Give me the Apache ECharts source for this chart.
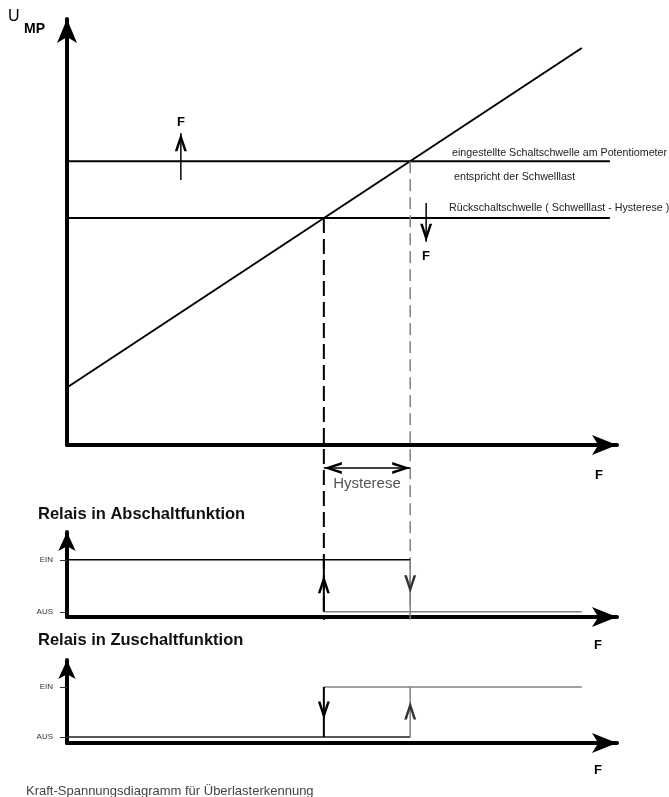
<!DOCTYPE html>
<html>
<head>
<meta charset="utf-8">
<script src="https://cdn.jsdelivr.net/npm/echarts@6/dist/echarts.min.js"></script>
<style>
  html, body { margin: 0; padding: 0; background: #fff; }
  #chart { width: 669px; height: 797px; }
</style>
</head>
<body>
<div id="chart"></div>
<script>
// Kennlinie U_MP(F) (F und U in willkuerlichen Einheiten 0..10)
const kennlinieF = [0, 9.36];
const kennlinieU = [1.35, 9.32];
const schwelleU = [6.66, 5.33];       // Schaltschwelle, Rueckschaltschwelle
const schaltpunktF = [4.67, 6.24];    // Rueckschaltpunkt, Schaltpunkt
const schwelleEndeF = 9.87;
const hilfslinieEndeU = -4.1;         // gestrichelte Linien laufen bis in das Relais-Diagramm
const hystereseU = -0.54;
const kraftPfeilF = [2.07, 6.53];
const kraftPfeilU = [[6.22, 7.32], [5.68, 4.77]];

// Relais-Zustaende (0 = AUS, 1 = EIN)
const zustaende = ['AUS', 'EIN'];
const abschaltEin = [[0, 1], [6.24, 1]];
const abschaltAus = [[4.67, 0], [9.36, 0]];
const zuschaltAus = [[0, 0], [6.24, 0]];
const zuschaltEin = [[4.67, 1], [9.36, 1]];
const pfeilMitte = 0.53;

const CARET = 'path://M0,18 L5,0 L10,18 L7.8,18 L5,7.5 L2.2,18 Z';
const GRAU = '#808080';

const chart = echarts.init(document.getElementById('chart'), null, { renderer: 'canvas' });

function spitze(point, rotate, offset) {
  return { value: point, symbol: CARET, symbolSize: [12, 18], symbolRotate: rotate, symbolOffset: offset };
}

function linie(g, data, color, width, type) {
  return {
    type: 'line', xAxisIndex: g, yAxisIndex: g, data: data,
    symbol: 'none', clip: false, silent: true,
    lineStyle: { color: color, width: width, type: type || 'solid', cap: 'butt' },
    itemStyle: { color: color, borderWidth: 0 }
  };
}

function xAchse(g) {
  return {
    type: 'value', gridIndex: g, min: 0, max: 10,
    axisLine: { onZero: false, lineStyle: { color: '#000', width: 4 },
      symbol: ['none', 'arrow'], symbolSize: [15, 25] },
    axisTick: { show: false }, axisLabel: { show: false }, splitLine: { show: false }
  };
}

function relaisY(g, min, max) {
  return {
    type: 'value', gridIndex: g, min: min, max: max,
    axisLine: { onZero: false, lineStyle: { color: '#000', width: 4 },
      symbol: ['none', 'arrow'], symbolSize: [13, 19] },
    axisTick: { show: true, customValues: [0, 1], length: 7, lineStyle: { color: '#333', width: 1 } },
    axisLabel: { customValues: [0, 1], margin: 14, color: '#333', fontSize: 8, fontFamily: 'Arial',
      formatter: v => zustaende[Math.round(v)] },
    splitLine: { show: false }
  };
}

function text(str, x, y, font, fill, align) {
  return { type: 'text', x: x, y: y, silent: true,
    style: { text: str, font: font, fill: fill || '#000', textAlign: align || 'left', verticalAlign: 'middle' } };
}

const series = [
  // Hauptdiagramm
  linie(0, [[kennlinieF[0], kennlinieU[0]], [kennlinieF[1], kennlinieU[1]]], '#000', 2),
  linie(0, [[0, schwelleU[0]], [schwelleEndeF, schwelleU[0]]], '#000', 2),
  linie(0, [[0, schwelleU[1]], [schwelleEndeF, schwelleU[1]]], '#000', 2),
  linie(0, [[schaltpunktF[0], schwelleU[1]], [schaltpunktF[0], hilfslinieEndeU]], '#000', 2, [15, 6]),
  linie(0, [[schaltpunktF[1], schwelleU[0]], [schaltpunktF[1], hilfslinieEndeU]], GRAU, 1.5, [12, 6]),
  linie(0, [spitze([schaltpunktF[0], hystereseU], 90, [9, 0]),
            spitze([schaltpunktF[1], hystereseU], -90, [-9, 0])], '#000', 1.5),
  linie(0, [[kraftPfeilF[0], kraftPfeilU[0][0]], spitze([kraftPfeilF[0], kraftPfeilU[0][1]], 0, [0, 9])], '#000', 1.5),
  linie(0, [[kraftPfeilF[1], kraftPfeilU[1][0]], spitze([kraftPfeilF[1], kraftPfeilU[1][1]], 180, [0, -9])], '#000', 1.5),

  // Relais in Abschaltfunktion
  linie(1, abschaltEin, '#000', 1.5),
  linie(1, abschaltAus, GRAU, 1.5),
  linie(1, [[schaltpunktF[0], 0], spitze([schaltpunktF[0], pfeilMitte], 0, [0, 0]), [schaltpunktF[0], 1]], '#000', 2),
  linie(1, [[schaltpunktF[1], 1], spitze([schaltpunktF[1], pfeilMitte], 180, [0, 0]), [schaltpunktF[1], 0]], GRAU, 1.5),

  // Relais in Zuschaltfunktion
  linie(2, zuschaltAus, '#222', 1.5),
  linie(2, zuschaltEin, GRAU, 1.5),
  linie(2, [[schaltpunktF[0], 1], spitze([schaltpunktF[0], pfeilMitte], 180, [0, 0]), [schaltpunktF[0], 0]], '#000', 2),
  linie(2, [[schaltpunktF[1], 0], spitze([schaltpunktF[1], pfeilMitte], 0, [0, 0]), [schaltpunktF[1], 1]], GRAU, 1.5)
];
// Pfeilspitzen der grauen Linien etwas dunkler, sonst Linienfarbe
series.forEach(s => { s.itemStyle.color = s.lineStyle.color === GRAU ? '#333' : s.lineStyle.color; });

chart.setOption({
  animation: false,
  backgroundColor: '#fff',
  grid: [
    { left: 67, right: 52, top: 19, bottom: 352, outerBoundsMode: 'none' },
    { left: 67, right: 52, top: 532, bottom: 180, outerBoundsMode: 'none' },
    { left: 67, right: 52, top: 660, bottom: 54, outerBoundsMode: 'none' }
  ],
  xAxis: [xAchse(0), xAchse(1), xAchse(2)],
  yAxis: [
    {
      type: 'value', gridIndex: 0, min: 0, max: 10,
      axisLine: { onZero: false, lineStyle: { color: '#000', width: 4 },
        symbol: ['none', 'arrow'], symbolSize: [15, 24] },
      axisTick: { show: false }, axisLabel: { show: false }, splitLine: { show: false }
    },
    relaisY(1, -0.1, 1.535),
    relaisY(2, -0.12, 1.54)
  ],
  series: series,
  graphic: [
    text('U', 8, 17, '16px Arial', '#000'),
    text('MP', 24, 29, 'bold 14px Arial', '#000'),
    text('F', 181, 122, 'bold 13px Arial', '#000', 'center'),
    text('F', 426, 256, 'bold 13px Arial', '#000', 'center'),
    text('F', 599, 475, 'bold 13px Arial', '#000', 'center'),
    text('eingestellte Schaltschwelle am Potentiometer', 452, 153, '10.7px Arial', '#222'),
    text('entspricht der Schwelllast', 454, 177, '10.7px Arial', '#222'),
    text('Rückschaltschwelle ( Schwelllast - Hysterese )', 449, 208, '10.7px Arial', '#222'),
    text('Hysterese', 367, 484, '15px Arial', '#555', 'center'),
    text('Relais in Abschaltfunktion', 38, 514, 'bold 16.5px Arial', '#111'),
    text('F', 598, 645, 'bold 13px Arial', '#000', 'center'),
    text('Relais in Zuschaltfunktion', 38, 640, 'bold 16.5px Arial', '#111'),
    text('F', 598, 770, 'bold 13px Arial', '#000', 'center'),
    text('Kraft-Spannungsdiagramm für Überlasterkennung', 26, 791, '13px Arial', '#444')
  ]
});

window.addEventListener('resize', function () { chart.resize(); });
</script>
</body>
</html>
